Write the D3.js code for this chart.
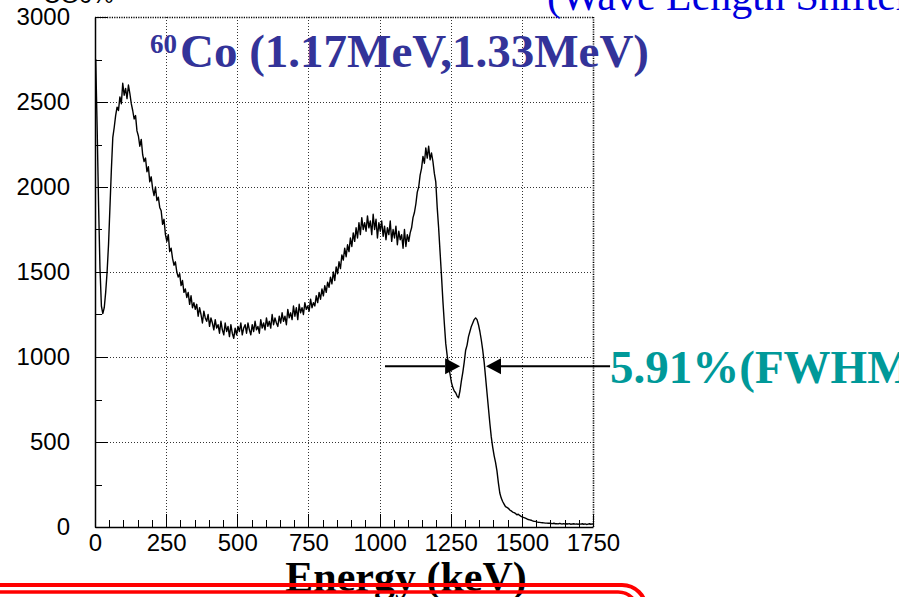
<!DOCTYPE html>
<html>
<head>
<meta charset="utf-8">
<script src="https://cdn.jsdelivr.net/npm/d3@7"></script>
<style>
  html, body { margin: 0; padding: 0; background: #fff; overflow: hidden; }
  svg { display: block; }
</style>
</head>
<body>
<svg id="chart" width="899" height="597"></svg>
<script>
// ---------- data ----------
const binWidth = 5; // keV
const binStart = 0;
const counts = [
  2750,2350,1900,1520,1300,1255,1290,1380,1500,1660,
  1880,2100,2290,2350,2420,2470,2450,2530,2490,2610,
  2540,2580,2520,2600,2550,2490,2450,2400,2420,2330,
  2300,2240,2280,2190,2150,2170,2090,2120,2030,2060,
  1990,1950,2000,1920,1940,1880,1860,1780,1810,1720,
  1680,1720,1620,1640,1580,1540,1560,1500,1470,1490,
  1420,1450,1380,1400,1350,1380,1310,1360,1290,1320,
  1280,1310,1240,1290,1250,1200,1270,1230,1210,1250,
  1180,1230,1200,1160,1220,1170,1190,1140,1210,1160,
  1130,1200,1150,1180,1120,1190,1140,1110,1170,1130,
  1180,1150,1200,1130,1170,1190,1140,1200,1160,1130,
  1190,1150,1210,1160,1180,1140,1220,1170,1200,1160,
  1230,1180,1210,1170,1250,1190,1230,1200,1180,1240,
  1200,1260,1210,1240,1190,1280,1230,1260,1220,1300,
  1240,1290,1220,1310,1260,1290,1250,1320,1280,1300,
  1270,1340,1290,1320,1300,1360,1320,1380,1340,1400,
  1360,1420,1380,1440,1410,1470,1430,1500,1450,1530,
  1490,1560,1520,1600,1570,1640,1590,1660,1620,1700,
  1650,1730,1680,1760,1700,1790,1720,1820,1750,1790,
  1740,1830,1760,1800,1720,1840,1750,1810,1700,1790,
  1740,1800,1710,1770,1690,1760,1720,1800,1680,1750,
  1700,1770,1660,1740,1690,1720,1640,1750,1650,1720,
  1680,1730,1760,1820,1850,1900,1970,2000,2070,2110,
  2180,2140,2230,2170,2240,2160,2200,2150,2080,2030,
  1880,1760,1620,1480,1330,1200,1080,1010,950,900,
  850,820,800,790,770,760,800,860,910,970,
  1040,1070,1120,1150,1180,1200,1220,1230,1220,1190,
  1150,1100,1040,970,880,790,700,610,530,470,
  420,380,330,260,200,170,150,135,120,115,
  110,100,95,88,85,80,72,75,68,62,
  58,55,52,48,44,42,40,36,34,33,
  30,28,27,26,25,24,23,23,22,22,
  21,20,22,19,20,18,21,19,18,20,
  17,19,18,20,16,18,19,17,18,16,
  18,17,19,16,18,15,17,19,16,18
];
const xTicks = [0, 250, 500, 750, 1000, 1250, 1500, 1750];
const yTicks = [0, 500, 1000, 1500, 2000, 2500, 3000];
const xMinorStep = 50;
const yMinorStep = 250;
const fwhmLeft = 1283, fwhmRight = 1374, arrowLevel = 945, arrowFrom = 1019, arrowTo = 1810;

// ---------- layout ----------
const svg = d3.select("#chart");
const L = 95, R = 593, T = 17, B = 527;
const x = d3.scaleLinear().domain([0, 1750]).range([L, R]);
const y = d3.scaleLinear().domain([0, 3000]).range([B, T]);

// grid
const grid = svg.append("g").attr("stroke", "#333").attr("stroke-width", 1).attr("stroke-dasharray", "1,2");
grid.selectAll(".vg").data(xTicks.filter(d => d > 0 && d < 1750)).join("line")
  .attr("x1", d => Math.round(x(d)) + 0.5).attr("x2", d => Math.round(x(d)) + 0.5)
  .attr("y1", T).attr("y2", B);
grid.selectAll(".hg").data(yTicks.filter(d => d > 0 && d < 3000)).join("line")
  .attr("y1", d => Math.round(y(d)) + 0.5).attr("y2", d => Math.round(y(d)) + 0.5)
  .attr("x1", L).attr("x2", R);
// top & right frame (dotted, darker)
svg.append("line").attr("x1", L).attr("x2", R).attr("y1", T + 0.5).attr("y2", T + 0.5)
  .attr("stroke", "#000").attr("stroke-width", 1.6).attr("stroke-dasharray", "1.2,1.2");
svg.append("line").attr("x1", R + 0.5).attr("x2", R + 0.5).attr("y1", T).attr("y2", B)
  .attr("stroke", "#000").attr("stroke-width", 1.6).attr("stroke-dasharray", "1.2,1.2");

// axes
const xAxis = d3.axisBottom(x).tickValues(xTicks).tickSize(0).tickPadding(7).tickFormat(d3.format("d"));
const gx = svg.append("g").attr("transform", `translate(0,${B})`).call(xAxis);
gx.select(".domain").attr("stroke", "#000").attr("stroke-width", 1.5);
gx.selectAll("text").attr("font-family", "Liberation Sans, Arial, sans-serif").attr("font-size", 24).attr("fill", "#000")
  .attr("dy", "0.72em");

const yAxis = d3.axisLeft(y).tickValues(yTicks).tickSize(0).tickPadding(25).tickFormat(d3.format("d"));
const gy = svg.append("g").attr("transform", `translate(${L},0)`).call(yAxis);
gy.select(".domain").attr("stroke", "#000").attr("stroke-width", 1.5);
gy.selectAll("text").attr("font-family", "Liberation Sans, Arial, sans-serif").attr("font-size", 24).attr("fill", "#000");

// inner ticks
const tk = svg.append("g").attr("stroke", "#000").attr("stroke-width", 1);
tk.selectAll(".xt").data(d3.range(0, 1751, xMinorStep)).join("line")
  .attr("x1", d => Math.round(x(d)) + 0.5).attr("x2", d => Math.round(x(d)) + 0.5)
  .attr("y1", B).attr("y2", d => B - (d % 250 === 0 ? 13 : 7));
tk.selectAll(".yt").data(d3.range(0, 3001, yMinorStep)).join("line")
  .attr("y1", d => Math.round(y(d)) + 0.5).attr("y2", d => Math.round(y(d)) + 0.5)
  .attr("x1", L).attr("x2", d => L + (d % 500 === 0 ? 13 : 7));

// spectrum
const pts = counts.map((c, i) => [binStart + i * binWidth + binWidth / 2, c]);
pts.unshift([binStart + 0.5, counts[0]]);
pts.push([binStart + counts.length * binWidth, counts[counts.length - 1]]);
const line = d3.line().x(d => x(d[0])).y(d => y(d[1])).curve(d3.curveLinear);
svg.append("path").datum(pts).attr("d", line)
  .attr("fill", "none").attr("stroke", "#000").attr("stroke-width", 1.4).attr("stroke-linejoin", "round");

// FWHM arrows
const ay = y(arrowLevel);
const arr = svg.append("g").attr("fill", "#000").attr("stroke", "#000");
arr.append("line").attr("x1", x(arrowFrom)).attr("x2", x(fwhmLeft) - 15).attr("y1", ay).attr("y2", ay).attr("stroke-width", 2);
arr.append("path").attr("d", `M${x(fwhmLeft)},${ay} L${x(fwhmLeft) - 15},${ay - 8} L${x(fwhmLeft) - 15},${ay + 8} Z`).attr("stroke", "none");
arr.append("line").attr("x1", x(fwhmRight) + 15).attr("x2", x(arrowTo)).attr("y1", ay).attr("y2", ay).attr("stroke-width", 2);
arr.append("path").attr("d", `M${x(fwhmRight)},${ay} L${x(fwhmRight) + 15},${ay - 8} L${x(fwhmRight) + 15},${ay + 8} Z`).attr("stroke", "none");

// texts
const serif = "Liberation Serif, Times New Roman, serif";
const t1 = svg.append("text").attr("font-family", serif).attr("font-weight", "bold").attr("fill", "#333399");
t1.append("tspan").attr("x", 150).attr("y", 53).attr("font-size", 27).text("60");
t1.append("tspan").attr("x", 180).attr("y", 67).attr("font-size", 47).text("Co (1.17MeV,1.33MeV)");

svg.append("text").attr("x", 610).attr("y", 383).attr("font-family", serif).attr("font-weight", "bold")
  .attr("font-size", 47).attr("fill", "#009999").text("5.91%(FWHM)");

svg.append("text").attr("x", 547).attr("y", 10).attr("font-family", serif)
  .attr("font-size", 42).attr("fill", "#0000dd").text("(Wave Length Shifter)");

svg.append("text").attr("x", 43).attr("y", 3).attr("font-family", "Liberation Sans, Arial, sans-serif")
  .attr("font-size", 24).attr("fill", "#000").text("CG0%");

svg.append("text").attr("x", 406).attr("y", 591).attr("text-anchor", "middle").attr("font-family", serif)
  .attr("font-weight", "bold").attr("font-size", 42).attr("fill", "#000").text("Energy (keV)");

// red rounded frame lines at bottom
svg.append("rect").attr("x", -30).attr("y", 585).attr("width", 676).attr("height", 120).attr("rx", 24)
  .attr("fill", "none").attr("stroke", "#ff0000").attr("stroke-width", 4);
svg.append("rect").attr("x", -30).attr("y", 592).attr("width", 668).attr("height", 120).attr("rx", 20)
  .attr("fill", "none").attr("stroke", "#ff0000").attr("stroke-width", 3.5);
</script>
</body>
</html>
